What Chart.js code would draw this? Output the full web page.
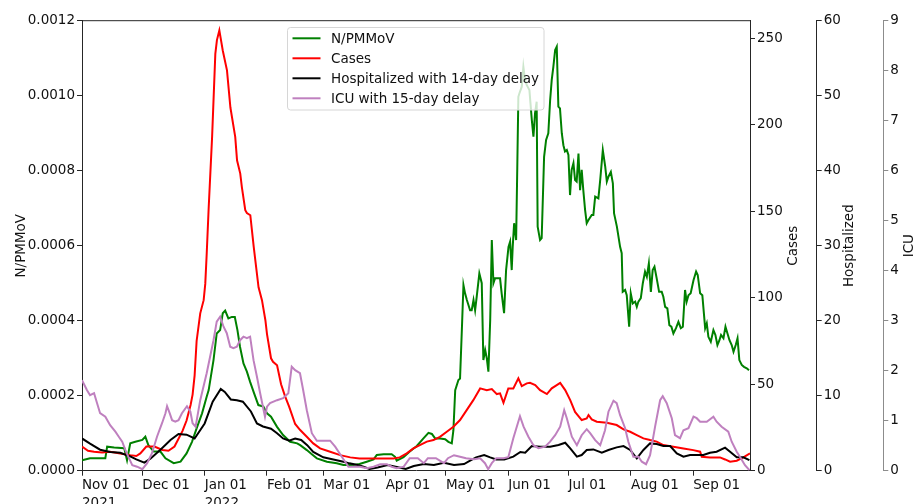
<!DOCTYPE html>
<html><head><meta charset="utf-8">
<script src="https://cdn.jsdelivr.net/npm/chart.js@4.4.1/dist/chart.umd.min.js"></script>
<style>html,body{margin:0;padding:0;background:#fff;overflow:hidden}#wrap{position:relative;width:917px;height:504px}</style>
</head><body><div id="wrap"><canvas id="c" width="917" height="504"></canvas></div>
<script>
// x values are day offsets from 2021-11-01
const monthTickDays = [0,30,61,92,120,151,181,212,242,273,304];
const monthTickLabels = [["Nov 01","2021"],"Dec 01",["Jan 01","2022"],"Feb 01","Mar 01","Apr 01","May 01","Jun 01","Jul 01","Aug 01","Sep 01"];
const seriesLabels = ["N/PMMoV","Cases","Hospitalized with 14-day delay","ICU with 15-day delay"];
const axisTitles = ["N/PMMoV","Cases","Hospitalized","ICU"];

const nDays = [0,4,11.6,12.5,16,21,22.4,24,26.5,30,31.5,33,35.7,39,41.5,45.6,49,52,54.7,57,59.7,62,63,65.4,67,68.7,70,71.2,72.8,74.5,76,77.3,78.6,80.3,82,83.6,85.6,87.7,90.2,92,94,97,100,103.5,107,108.5,111.8,114,116.8,121.8,126.7,130,135,138,141.6,145,146.6,150,154,155.7,156.5,159.9,163,166.5,169.8,172.3,174,175.6,178.1,180.6,182.2,183.9,184.7,185.6,187.2,188,188.9,189.7,190.5,191.4,193,193.8,194.7,195.5,196.3,197.6,198.8,199.6,200.5,201.3,202.1,203,203.8,204.6,205.4,207.9,208.7,209.9,210.9,212.1,212.9,213.7,214.2,214.9,215.9,216.5,217,217.5,218.7,219.5,220.3,221.2,222.5,223.7,224.5,225.3,226.1,226.6,227.8,228.6,229.8,230.8,231.9,232.8,233.6,234.4,235.3,236.1,236.9,237.7,238.6,239.4,240.2,241.1,241.9,242.7,243.5,244.4,245.2,246,246.9,247.7,248.5,249.3,250.2,251,251.8,253.5,254.3,255.2,256.8,257.7,259,260.2,261,261.8,263,264,264.6,266,267.6,268.4,268.9,270.1,270.9,272.1,272.9,273.9,275.1,275.9,276.7,277.9,278.9,280,280.9,281.9,282.9,283.8,284.7,285.8,287,288.3,289.1,290,291.1,292.1,293.1,294.1,295.4,296.6,297.8,298.8,299.9,300.7,301.6,302.7,304.1,305.4,306.2,307.4,308.5,309.9,310.7,311.5,312.7,314,315,316,317,317.8,319,320,321,322,323.1,324,325.1,326,326.9,328.1,329.2,330.6,331.7];
const nValues = [0.28e-4,0.33e-4,0.33e-4,0.64e-4,0.62e-4,0.60e-4,0.28e-4,0.73e-4,0.77e-4,0.82e-4,
0.91e-4,0.68e-4,0.51e-4,0.51e-4,0.33e-4,0.20e-4,0.24e-4,0.46e-4,0.77e-4,1.13e-4,
1.53e-4,1.97e-4,2.15e-4,2.95e-4,3.66e-4,3.75e-4,4.20e-4,4.27e-4,4.06e-4,4.10e-4,
4.10e-4,3.75e-4,3.30e-4,2.86e-4,2.64e-4,2.37e-4,2.06e-4,1.75e-4,1.71e-4,1.53e-4,
1.44e-4,1.17e-4,0.95e-4,0.77e-4,0.73e-4,0.68e-4,0.55e-4,0.45e-4,0.33e-4,0.24e-4,
0.20e-4,0.15e-4,0.15e-4,0.18e-4,0.24e-4,0.30e-4,0.42e-4,0.44e-4,0.44e-4,0.37e-4,
0.27e-4,0.36e-4,0.51e-4,0.66e-4,0.86e-4,1.01e-4,0.98e-4,0.86e-4,0.86e-4,0.84e-4,
0.77e-4,0.73e-4,1.08e-4,2.15e-4,2.42e-4,2.46e-4,3.75e-4,4.95e-4,4.73e-4,4.55e-4,
4.28e-4,4.28e-4,4.55e-4,4.28e-4,4.64e-4,5.26e-4,5.00e-4,2.95e-4,3.22e-4,3.00e-4,
2.64e-4,4.02e-4,6.15e-4,5.00e-4,5.13e-4,5.13e-4,4.73e-4,4.20e-4,5.35e-4,5.97e-4,
6.11e-4,5.35e-4,5.97e-4,6.60e-4,6.15e-4,8.20e-4,9.97e-4,10.06e-4,10.24e-4,10.77e-4,
10.42e-4,10.28e-4,10.15e-4,9.35e-4,8.91e-4,9.53e-4,9.84e-4,6.51e-4,6.15e-4,6.20e-4,
8.37e-4,8.82e-4,9.00e-4,9.88e-4,10.42e-4,10.77e-4,11.22e-4,11.31e-4,9.71e-4,9.66e-4,
9.00e-4,8.68e-4,8.51e-4,8.55e-4,8.42e-4,7.35e-4,8.02e-4,8.20e-4,7.75e-4,7.71e-4,
8.46e-4,7.48e-4,8.02e-4,7.48e-4,6.95e-4,6.60e-4,6.68e-4,6.82e-4,6.82e-4,7.31e-4,
7.26e-4,7.75e-4,8.55e-4,8.11e-4,7.71e-4,7.84e-4,7.97e-4,7.66e-4,6.86e-4,6.51e-4,
5.97e-4,5.80e-4,4.77e-4,4.82e-4,4.68e-4,3.84e-4,4.73e-4,4.46e-4,4.51e-4,4.37e-4,
4.51e-4,4.60e-4,5.00e-4,5.31e-4,5.17e-4,5.53e-4,4.77e-4,5.35e-4,5.44e-4,5.13e-4,
4.77e-4,4.77e-4,4.64e-4,4.37e-4,4.33e-4,3.88e-4,3.84e-4,3.66e-4,3.80e-4,3.97e-4,
3.80e-4,3.84e-4,4.82e-4,4.51e-4,4.68e-4,4.73e-4,5.08e-4,5.31e-4,5.22e-4,4.73e-4,
4.68e-4,3.80e-4,3.93e-4,3.57e-4,3.44e-4,3.75e-4,3.62e-4,3.35e-4,3.48e-4,3.62e-4,
3.53e-4,3.84e-4,3.66e-4,3.48e-4,3.35e-4,3.17e-4,3.35e-4,3.53e-4,2.95e-4,2.82e-4,
2.77e-4,2.73e-4,2.68e-4];

const casesDays = [0,3,6,10,14,19,24,27,29,32,36,40,43,46,48,50,52,54,55,56,57,58.8,60.5,61.3,62,63,64.7,66.3,67.1,68.3,70,72.1,73.8,76.2,77.1,78.7,79.5,81.2,82,83.7,85.4,87.8,89.5,91.2,92,94,95,97,99,101,103,106,108.5,111.8,115,118.4,123.4,128.4,133.4,138,145,150,155,158,161.5,164.8,168,171.5,174.8,178,181.4,184.7,188,191.3,194.6,198,201.3,203.8,206.3,207.9,209.6,212,214.5,217,218.7,221.2,222.8,225.4,227.8,231.2,233.6,236.1,237.8,240.3,242.8,245.2,248.5,251,251.9,253.5,256,261,265.9,269.3,272.6,275.9,279.2,282.5,285.8,289.1,294.1,299.1,304,307.4,308.2,312.3,317.3,319.8,322.3,325.6,328.9,332.2];
const casesValues = [13.9,11.5,10.9,10.5,11,10,9,8.5,10,14,14,12,11.5,14,18.5,23,29,38,44,55,75,91,98.6,108,125,152,193,241,249,254.6,243,231.5,210,193,179.5,171.8,164,150.6,149,147.7,129.4,106,98.6,87,79,65,63,61,50,43,37,27,23.5,19.6,15.8,12.9,11,9,7.7,7.1,7.1,7.1,7.1,7.7,10,12.9,14.8,16.8,17.7,19.6,22.5,25.4,29.3,35,40.8,47.6,46.6,47.2,44.3,44.7,39.3,47.6,47.6,53.4,48.9,50.5,50.8,49.5,46.6,44.3,47.6,49.5,50.8,46.6,40.8,34,29.3,30.2,32.2,29.7,28.3,27.7,26.4,23.9,22.5,20.6,18.7,17.7,16.8,14.8,13.9,12.9,11.9,11,8.1,7.7,7.7,6.5,5.2,5.8,7.7,10];

const hospDays = [0,4,9,14,19,24,27,31,34,39,44,48,52,56,61,65,69,71,74,77,80,84,87,90,94,97,100,103,106,109,112,115,120,125,130,133,137,140,143,147,152,156,161,165,170,175,180,185,190,193,196,200,203,206,210,214.5,218,220.4,223.7,227.8,232.8,237,240.3,242.8,246.1,248.5,251,254.3,258.5,261.8,265.9,269.3,272.6,275.9,279.2,282.5,285.8,289.1,292.5,295.8,299.1,302.4,305.7,309,312.3,315.6,319.8,322.3,325.6,328.9,331.9];
const hospValues = [4.3,3.6,2.8,2.5,2.4,1.9,1.5,1.07,1.6,2.8,4.1,4.9,4.8,4.3,6.3,9.2,10.9,10.5,9.5,9.4,9.2,7.9,6.3,5.9,5.6,5.0,4.3,4.0,4.3,4.1,3.4,2.5,1.78,1.5,1.2,0.98,0.75,0.53,0.22,0.44,0.75,0.53,0.22,0.62,0.89,0.75,1.07,0.75,0.89,1.33,1.78,2.1,1.78,1.5,1.5,1.87,2.5,2.4,3.29,3.2,3.2,3.42,3.73,2.98,1.87,2.09,2.76,2.84,2.4,2.76,3.11,3.29,2.76,1.64,2.76,3.64,3.56,3.29,3.29,2.31,1.87,2.09,2.09,2.09,2.4,2.53,3.07,2.53,1.78,1.78,1.42];

const icuDays = [0,2.5,4,6,7.5,9,11.6,14,16.6,18.3,20,21.6,23,25,27.4,30,32.4,34.8,37.3,39.8,41.5,42.3,43.6,44.8,46.4,48,49.7,52.2,53.9,55,56.5,58.8,62,65.4,67,68.7,70.4,72,73.7,75.3,77,78.6,80.3,82,83.6,85.3,87,88.6,91,92,93.5,97,100,102.6,104.3,106,108.4,110,111.8,114.3,116.8,123.4,125.9,129.2,132.5,138.3,141.6,145,148.3,151.6,154,156.5,160,163,167,170,172,176,180,182,185,188,191,195,198,200.4,202,203.8,206,209.6,212,214.5,217.8,219.6,222,224.5,227,230.3,232.8,235.3,237.8,239.8,241.1,243.6,246.1,248.5,251,252.7,255.2,257.7,260.1,261.8,264.3,265.9,267.6,270.1,271.7,274.2,276.7,278.4,280.5,282.5,285,287.5,288.8,290.8,293.3,294.9,297.4,299.1,301.6,304.1,305.7,307.4,310.7,314,315.6,318.1,321.4,323.1,325.6,327.2,329.7,331.9];
const icuValues = [1.81,1.61,1.51,1.55,1.35,1.15,1.08,0.91,0.78,0.68,0.58,0.41,0.28,0.11,0.08,0.03,0.15,0.35,0.68,0.95,1.15,1.29,1.15,1.01,0.98,1.01,1.15,1.29,1.18,0.95,0.88,1.41,1.95,2.61,2.98,3.08,2.88,2.75,2.48,2.45,2.48,2.61,2.68,2.65,2.68,2.21,1.88,1.55,1.08,1.28,1.35,1.41,1.45,1.55,2.08,2.01,1.95,1.61,1.21,0.75,0.6,0.6,0.48,0.28,0.08,0.08,0.05,0.08,0.13,0.13,0.08,0.05,0.08,0.25,0.25,0.15,0.25,0.25,0.15,0.25,0.31,0.28,0.25,0.23,0.25,0.15,0.03,0.15,0.25,0.25,0.27,0.65,1.09,0.88,0.68,0.51,0.45,0.48,0.58,0.71,0.88,1.21,1.05,0.68,0.51,0.71,0.83,0.75,0.61,0.51,0.81,1.18,1.4,1.35,1.11,0.85,0.58,0.28,0.28,0.18,0.13,0.31,0.88,1.41,1.49,1.35,1.05,0.71,0.65,0.81,0.85,1.08,1.05,0.98,0.98,1.08,0.98,0.88,0.78,0.58,0.38,0.28,0.11,0.01];

const seriesColors = ['#008000','#ff0000','#000000','#bf80bf'];
const FONT = "'DejaVu Sans', sans-serif";
const FSIZE = 13.5;
const TXT = '#111111';
const SPINE = '#262626';

const pts = (xs, ys) => xs.map((x, i) => ({x, y: ys[i]}));

const decor = {
  id: 'decor',
  afterDraw(chart) {
    const {ctx, chartArea: a} = chart;
    ctx.save();
    // top spine of the plot box
    ctx.strokeStyle = SPINE; ctx.lineWidth = 1;
    ctx.beginPath(); ctx.moveTo(a.left, a.top); ctx.lineTo(a.right, a.top); ctx.stroke();
    // axis titles, matplotlib style (read bottom-to-top)
    ctx.fillStyle = TXT; ctx.font = FSIZE + 'px ' + FONT;
    ctx.textAlign = 'center'; ctx.textBaseline = 'alphabetic';
    const cy = (a.top + a.bottom) / 2;
    const titleX = [24.8, 797.3, 853, 913.3];
    axisTitles.forEach((t, i) => {
      ctx.save(); ctx.translate(titleX[i], cy); ctx.rotate(-Math.PI / 2);
      ctx.fillText(t, 0, 0); ctx.restore();
    });
    // legend
    const lx = 287.5, ly = 27.5, lw = 256.5, lh = 82.5, r = 3;
    ctx.beginPath();
    ctx.moveTo(lx + r, ly); ctx.lineTo(lx + lw - r, ly); ctx.quadraticCurveTo(lx + lw, ly, lx + lw, ly + r);
    ctx.lineTo(lx + lw, ly + lh - r); ctx.quadraticCurveTo(lx + lw, ly + lh, lx + lw - r, ly + lh);
    ctx.lineTo(lx + r, ly + lh); ctx.quadraticCurveTo(lx, ly + lh, lx, ly + lh - r);
    ctx.lineTo(lx, ly + r); ctx.quadraticCurveTo(lx, ly, lx + r, ly); ctx.closePath();
    ctx.fillStyle = 'rgba(255,255,255,0.8)'; ctx.fill();
    ctx.strokeStyle = '#d6d6d6'; ctx.lineWidth = 1; ctx.stroke();
    ctx.textAlign = 'left';
    seriesLabels.forEach((t, i) => {
      const y = 38.3 + 20 * i;
      ctx.strokeStyle = seriesColors[i]; ctx.lineWidth = 2;
      ctx.beginPath(); ctx.moveTo(292.5, y); ctx.lineTo(320.5, y); ctx.stroke();
      ctx.fillStyle = TXT; ctx.fillText(t, 331, y + 5);
    });
    ctx.restore();
  }
};

const tickFont = {family: FONT, size: FSIZE};
const yAxis = (pos, min, max, step, w, color, fmt, extra) => Object.assign({
  type: 'linear', position: pos, min, max,
  title: {display: false},
  ticks: {stepSize: step, includeBounds: false, font: tickFont, color: TXT, padding: 2, callback: fmt},
  grid: {drawOnChartArea: false, drawTicks: true, tickLength: 5, color: color, lineWidth: 1},
  border: {display: true, color: color, width: 1},
  afterFit(s) { s.width = w; }
}, extra || {});

new Chart(document.getElementById('c'), {
  type: 'line',
  data: {
    datasets: [
      {label: seriesLabels[0], data: pts(nDays, nValues), yAxisID: 'y', borderColor: seriesColors[0], order: 4},
      {label: seriesLabels[1], data: pts(casesDays, casesValues), yAxisID: 'yCases', borderColor: seriesColors[1], order: 3},
      {label: seriesLabels[2], data: pts(hospDays, hospValues), yAxisID: 'yHosp', borderColor: seriesColors[2], order: 2},
      {label: seriesLabels[3], data: pts(icuDays, icuValues), yAxisID: 'yIcu', borderColor: seriesColors[3], order: 1}
    ]
  },
  options: {
    responsive: false, animation: false, devicePixelRatio: 1,
    layout: {padding: {top: 20.7, left: 0, right: 0, bottom: 0}},
    elements: {point: {radius: 0}, line: {borderWidth: 2, tension: 0, fill: false}},
    plugins: {legend: {display: false}, tooltip: {enabled: false}},
    scales: {
      x: {
        type: 'linear', min: 0, max: 332.2,
        afterBuildTicks(s) { s.ticks = monthTickDays.map(v => ({value: v})); },
        ticks: {autoSkip: false, maxRotation: 0, minRotation: 0, align: 'start', padding: 1,
                font: {family: FONT, size: FSIZE, lineHeight: 1.3}, color: TXT,
                callback: (v, i) => monthTickLabels[i]},
        grid: {drawOnChartArea: false, tickLength: 5, color: SPINE},
        border: {display: true, color: SPINE},
        afterFit(s) { s.height = 33.3; }
      },
      y: yAxis('left', 0, 0.0012, 0.0002, 82, SPINE, v => v.toFixed(4), {}),
      yCases: yAxis('right', 0, 260.2, 50, 66.7, SPINE, v => String(v), {weight: 1}),
      yHosp: yAxis('right', 0, 60, 10, 66.6, SPINE, v => String(v), {weight: 2}),
      yIcu: yAxis('right', 0, 9, 1, 33.7, '#8c8c8c', v => String(v), {weight: 3})
    }
  },
  plugins: [decor]
});
</script>
</body></html>
